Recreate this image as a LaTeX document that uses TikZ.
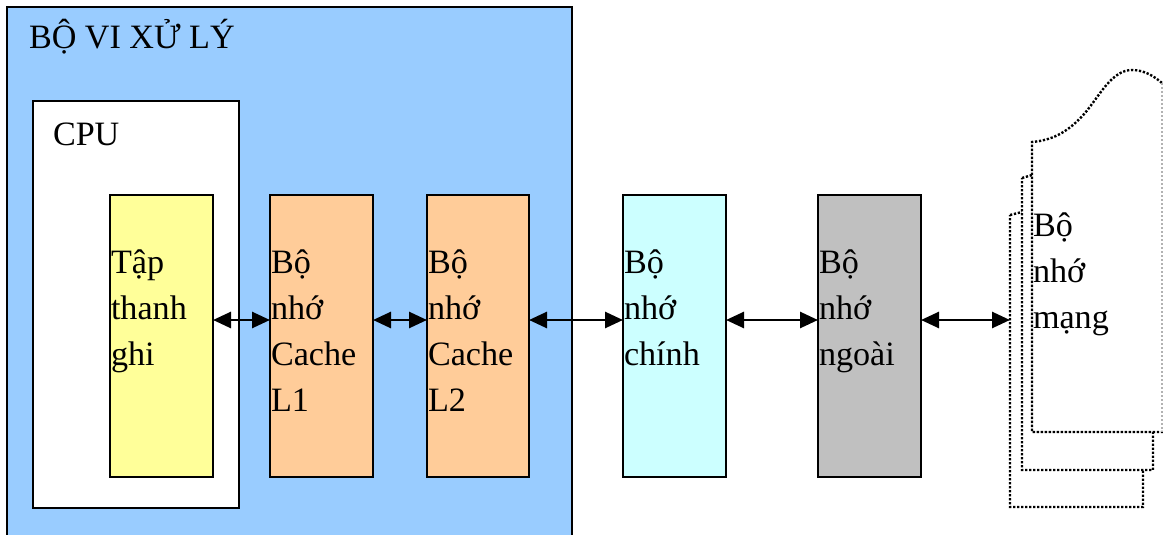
\documentclass[tikz,border=0pt]{standalone}
\usepackage{fontspec}
\setmainfont{Liberation Serif}
\usetikzlibrary{arrows.meta}
\definecolor{procblue}{HTML}{99CCFF}
\definecolor{regyellow}{HTML}{FFFF99}
\definecolor{cacheorange}{HTML}{FFCC99}
\definecolor{maincyan}{HTML}{CCFFFF}
\definecolor{extgray}{HTML}{C0C0C0}
\newcommand{\linesof}[1]{\begin{tabular}[t]{@{}l@{}}#1\end{tabular}}
\begin{document}
\begin{tikzpicture}[x=0.75pt,y=-0.75pt,
  box/.style={draw=black, line width=1.35pt, anchor=north west, inner sep=0pt, outer sep=0pt},
  col/.style={box, minimum width=77.25pt, minimum height=211.5pt},
  lbl/.style={anchor=base west, inner sep=0pt, outer sep=0pt, font=\fontsize{25.6}{34.5}\selectfont},
  link/.style={line width=2pt, {Triangle[length=13.5pt,width=12pt]}-{Triangle[length=13.5pt,width=12pt]}},
  dots/.style={line width=1.8pt, dash pattern=on 1.7pt off 1.3pt}]
\useasboundingbox (0,0) rectangle (1163,535);
\clip (0,0) rectangle (1163,535);
\fill[white] (0,0) rectangle (1163,535);
% processor region
\draw[fill=procblue, line width=1.6pt] (7,545) -- (7,7) -- (572,7) -- (572,545);
\node[lbl] (title) at (29,49) {BỘ VI XỬ LÝ};
% CPU
\node[box, fill=white, minimum width=154.5pt, minimum height=305.25pt] (cpu) at (33,101) {};
\node[lbl] (cputxt) at (53,145) {CPU};
% columns
\node[col, fill=regyellow] (reg) at (110,195) {};
\node[col, fill=cacheorange] (l1) at (270,195) {};
\node[col, fill=cacheorange, minimum width=76.5pt] (l2) at (427,195) {};
\node[col, fill=maincyan] (mainm) at (623,195) {};
\node[col, fill=extgray] (extm) at (818,195) {};
\node[lbl] (regtxt) at (111,273) {\linesof{Tập\\thanh\\ghi}};
\node[lbl] (l1txt) at (271,273) {\linesof{Bộ\\nhớ\\Cache\\L1}};
\node[lbl] (l2txt) at (428,273) {\linesof{Bộ\\nhớ\\Cache\\L2}};
\node[lbl] (maintxt) at (624,273) {\linesof{Bộ\\nhớ\\chính}};
\node[lbl] (exttxt) at (819,273) {\linesof{Bộ\\nhớ\\ngoài}};
% network memory (stacked documents)
\draw[dots, fill=white] (1010,215) -- (1022,212) -- (1143,212) -- (1143,507) -- (1010,507) -- cycle;
\draw[dots, fill=white] (1022,178) -- (1032,175) -- (1153,175) -- (1153,470) -- (1022,470) -- cycle;
\fill[white] (1032,432) -- (1032,142) .. controls (1055,140) and (1070,130) .. (1085,113)
  .. controls (1100,95) and (1112,70) .. (1132,70) .. controls (1145,70) and (1155,77) .. (1162,83)
  -- (1163,83) -- (1163,432) -- cycle;
\draw[dots] (1163,432) -- (1032,432) -- (1032,142) .. controls (1055,140) and (1070,130) .. (1085,113)
  .. controls (1100,95) and (1112,70) .. (1132,70) .. controls (1145,70) and (1155,77) .. (1162,83);
\draw[dots, draw=black!30, line width=1.2pt] (1162,83) -- (1162,432);
\coordinate (netin) at (1010,320);
\node[lbl] (nettxt) at (1033,236) {\linesof{Bộ\\nhớ\\mạng}};
% connectors
\draw[link] ([yshift=12pt]reg.east) -- ([yshift=12pt]l1.west);
\draw[link] ([yshift=12pt]l1.east) -- ([yshift=12pt]l2.west);
\draw[link] ([yshift=12pt]l2.east) -- ([yshift=12pt]mainm.west);
\draw[link] ([yshift=12pt]mainm.east) -- ([yshift=12pt]extm.west);
\draw[link] ([yshift=12pt]extm.east) -- (netin);
\end{tikzpicture}
\end{document}
